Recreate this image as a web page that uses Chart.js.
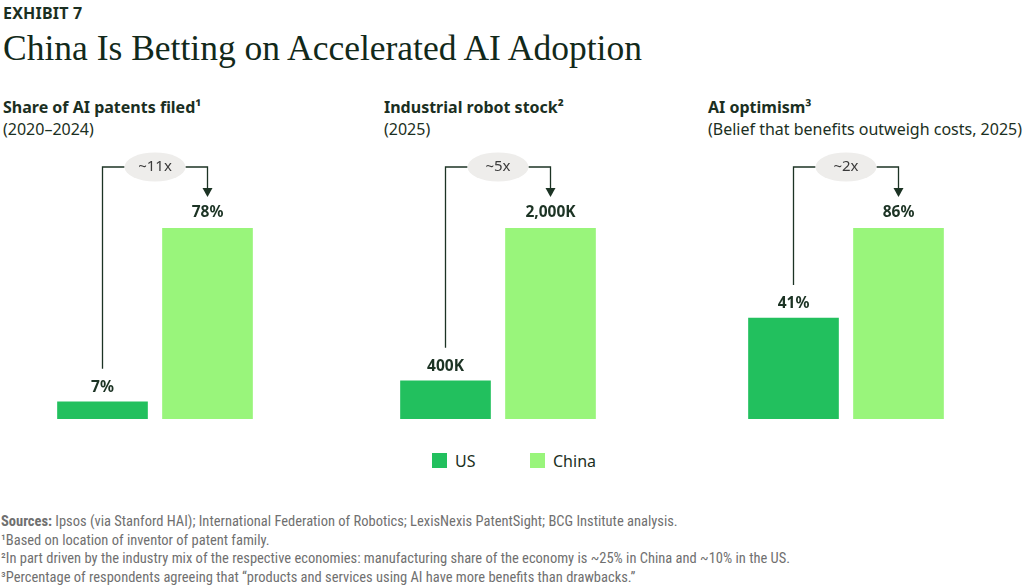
<!DOCTYPE html>
<html>
<head>
<meta charset="utf-8">
<script src="https://cdn.jsdelivr.net/npm/chart.js@4"></script>
<style>
  body { margin: 0; background: #fff; width: 1024px; height: 585px; overflow: hidden; position: relative; font-family: 'Noto Sans', 'Open Sans', sans-serif; color: #1b2f22; }
  .abs { position: absolute; white-space: nowrap; }
  #exhibit { left: 3px; top: 2px; font-size: 16px; font-weight: 700; letter-spacing: 0.2px; }
  #title { left: 3px; top: 27px; font-family: 'Liberation Serif', 'DejaVu Serif', serif; font-size: 35.5px; color: #12291a; }
  .ptitle { font-size: 16px; font-weight: 700; }
  .psub { font-size: 16px; }
  .chart { position: absolute; top: 140px; width: 210px; height: 285px; }
  .sw { position: absolute; width: 15px; height: 15px; top: 453px; }
  .lg { font-size: 16px; top: 450px; }
  #notes { left: 1px; top: 513px; font-family: 'Liberation Sans Narrow', 'Roboto Condensed', 'Roboto', sans-serif; font-size: 14.5px; line-height: 18.6px; color: #707070; }
  #notes b { font-weight: 700; }
</style>
</head>
<body>
<div class="abs" id="exhibit">EXHIBIT 7</div>
<div class="abs" id="title">China Is Betting on Accelerated AI Adoption</div>

<div class="abs ptitle" style="left:3px;top:96px">Share of AI patents filed¹</div>
<div class="abs psub" style="left:3px;top:118px">(2020–2024)</div>
<div class="abs ptitle" style="left:384px;top:96px">Industrial robot stock²</div>
<div class="abs psub" style="left:384px;top:118px">(2025)</div>
<div class="abs ptitle" style="left:708px;top:96px">AI optimism³</div>
<div class="abs psub" style="left:708px;top:118px">(Belief that benefits outweigh costs, 2025)</div>

<canvas id="c0" class="chart" width="210" height="285" style="left:50px"></canvas>
<canvas id="c1" class="chart" width="210" height="285" style="left:393px"></canvas>
<canvas id="c2" class="chart" width="210" height="285" style="left:741px"></canvas>

<div class="sw" style="left:432px;background:#22c05e"></div>
<div class="abs lg" style="left:455px">US</div>
<div class="sw" style="left:530px;background:#99f57b"></div>
<div class="abs lg" style="left:553px">China</div>

<div class="abs" id="notes">
<b>Sources:</b> Ipsos (via Stanford HAI); International Federation of Robotics; LexisNexis PatentSight; BCG Institute analysis.<br>
¹Based on location of inventor of patent family.<br>
²In part driven by the industry mix of the respective economies: manufacturing share of the economy is ~25% in China and ~10% in the US.<br>
³Percentage of respondents agreeing that “products and services using AI have more benefits than drawbacks.”
</div>

<script>
// Data
const countries = ['US', 'China'];
const usValues = [7, 400, 41];
const chinaValues = [78, 2000, 86];
const units = ['%', 'K', '%'];
const multipliers = ['~11x', '~5x', '~2x'];
// the optimism panel in the source is drawn from a baseline below zero
const yMins = [0, 0, -9.5];

const US_COLOR = '#22c05e';
const CHINA_COLOR = '#99f57b';
const INK = '#1c3324';

function fmt(v, unit) {
    return v.toLocaleString('en-US') + unit;
}

// draws value labels + the bracket with the multiplier pill
const annotate = {
    id: 'annotate',
    afterDatasetsDraw(chart, args, opts) {
        const ctx = chart.ctx;
        const bars = chart.getDatasetMeta(0).data;
        const us = bars[0], cn = bars[1];
        const top = chart.chartArea.top;
        const vals = chart.data.datasets[0].data;

        ctx.save();
        ctx.fillStyle = INK;
        ctx.font = 'bold 15.5px "Noto Sans", sans-serif';
        ctx.textAlign = 'center';
        ctx.textBaseline = 'middle';
        ctx.fillText(fmt(vals[0], opts.unit), us.x, us.y - 14);
        ctx.fillText(fmt(vals[1], opts.unit), cn.x, cn.y - 15);

        const lineY = top - 61;
        const tipY = top - 31;
        const midX = (us.x + cn.x) / 2;
        const rx = 30.5, ry = 14.5;

        ctx.strokeStyle = INK;
        ctx.lineWidth = 1.3;
        ctx.beginPath();
        ctx.moveTo(us.x, us.y - 33);
        ctx.lineTo(us.x, lineY);
        ctx.lineTo(midX - rx, lineY);
        ctx.moveTo(midX + rx, lineY);
        ctx.lineTo(cn.x, lineY);
        ctx.lineTo(cn.x, tipY - 8);
        ctx.stroke();

        ctx.beginPath();
        ctx.moveTo(cn.x - 5, tipY - 9);
        ctx.lineTo(cn.x + 5, tipY - 9);
        ctx.lineTo(cn.x, tipY);
        ctx.closePath();
        ctx.fill();

        ctx.fillStyle = '#eeedeb';
        ctx.beginPath();
        ctx.ellipse(midX, lineY, rx, ry, 0, 0, Math.PI * 2);
        ctx.fill();

        ctx.fillStyle = '#3a3a3a';
        ctx.font = '15px "Noto Sans", sans-serif';
        ctx.fillText(opts.label, midX, lineY);
        ctx.restore();
    }
};

for (let i = 0; i < 3; i++) {
    new Chart(document.getElementById('c' + i), {
        type: 'bar',
        data: {
            labels: countries,
            datasets: [{
                data: [usValues[i], chinaValues[i]],
                backgroundColor: [US_COLOR, CHINA_COLOR],
                base: yMins[i],
                barThickness: 90,
                borderWidth: 0
            }]
        },
        options: {
            responsive: false,
            animation: false,
            layout: { padding: { top: 88, bottom: 6, left: 0, right: 0 } },
            scales: {
                x: { display: false },
                y: { display: false, min: yMins[i], max: chinaValues[i] }
            },
            plugins: {
                legend: { display: false },
                tooltip: { enabled: false },
                annotate: { unit: units[i], label: multipliers[i] }
            }
        },
        plugins: [annotate]
    });
}
</script>
</body>
</html>
